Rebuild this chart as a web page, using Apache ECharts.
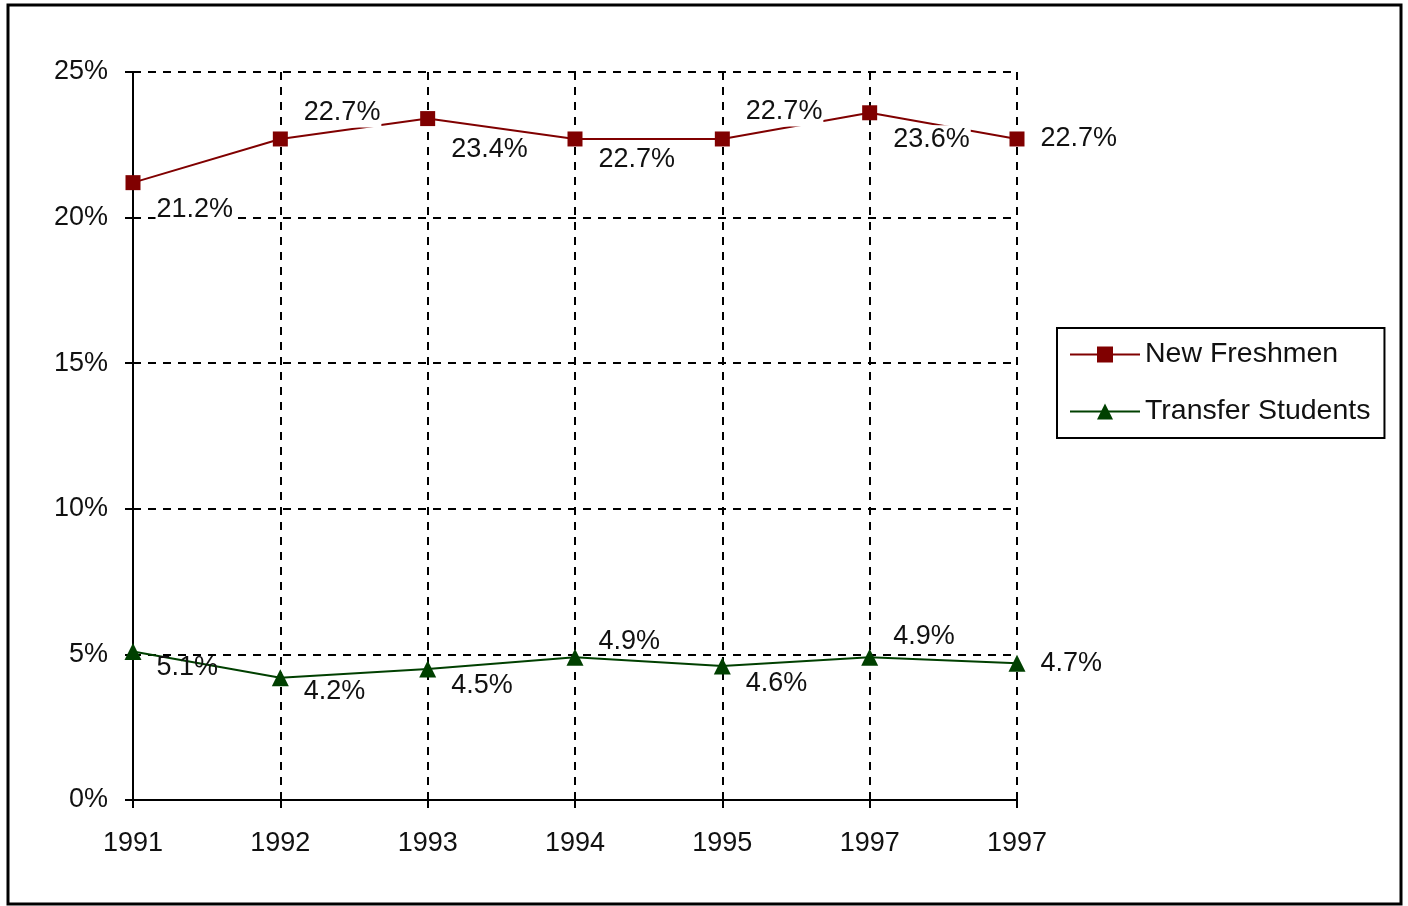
<!DOCTYPE html>
<html>
<head>
<meta charset="utf-8">
<style>
    html, body { margin: 0; padding: 0; background: #fff; }
    #chart { width: 1408px; height: 906px; }
</style>
<script src="https://cdn.jsdelivr.net/npm/echarts@6/dist/echarts.min.js"></script>
</head>
<body>
<div id="chart"></div>
<script>
// 数据
var years = ['1991', '1992', '1993', '1994', '1995', '1997', '1997'];
var freshmen = [21.2, 22.7, 23.4, 22.7, 22.7, 23.6, 22.7];
var transfer = [5.1, 4.2, 4.5, 4.9, 4.6, 4.9, 4.7];
var yTicks = [0, 5, 10, 15, 20, 25];

(function () {
    var myChart = echarts.init(document.getElementById('chart'));
    var font = 'Liberation Sans, Arial, sans-serif';

    // 标签上下偏移（像素）
    var redDy = [27, -26, 31, 21, -27, 27, 0];
    var greenDy = [16, 14, 17, -16, 17, -21, 0];

    function withLabels(values, dys, bg) {
        return values.map(function (v, i) {
            return {
                value: v,
                label: {
                    show: true,
                    position: 'right',
                    distance: 15,
                    offset: [0, dys[i]],
                    formatter: '{c}%',
                    color: '#111',
                    fontFamily: font,
                    fontSize: 27,
                    backgroundColor: bg,
                    padding: bg ? [1, 1] : 0
                }
            };
        });
    }

    var gridLine = {
        show: true,
        lineStyle: { color: '#000', width: 2, type: [8, 7] }
    };

    var option = {
        animation: false,
        backgroundColor: '#fff',
        graphic: [{
            type: 'rect',
            shape: { x: 8, y: 5, width: 1393, height: 899 },
            style: { fill: 'none', stroke: '#000', lineWidth: 3 },
            silent: true
        }],
        grid: {
            left: 133,
            right: 391,
            top: 72,
            bottom: 106
        },
        legend: {
            orient: 'vertical',
            left: 1057,
            top: 328,
            padding: [12, 14, 12, 12],
            itemGap: 28,
            itemWidth: 70,
            itemHeight: 20,
            borderColor: '#000',
            borderWidth: 2,
            textStyle: { fontFamily: font, fontSize: 28.5, color: '#111' },
            data: ['New Freshmen', 'Transfer Students']
        },
        xAxis: {
            type: 'category',
            boundaryGap: false,
            data: years,
            axisLine: { lineStyle: { color: '#000', width: 2 } },
            axisTick: { show: true, length: 8, alignWithLabel: true, lineStyle: { color: '#000', width: 2 } },
            axisLabel: { color: '#111', fontFamily: font, fontSize: 27, margin: 30 },
            splitLine: gridLine
        },
        yAxis: {
            type: 'value',
            min: yTicks[0],
            max: yTicks[yTicks.length - 1],
            interval: yTicks[1] - yTicks[0],
            axisLine: { show: true, lineStyle: { color: '#000', width: 2 } },
            axisTick: { show: true, length: 8, lineStyle: { color: '#000', width: 2 } },
            axisLabel: { color: '#111', fontFamily: font, fontSize: 27, margin: 25, formatter: '{value}%' },
            splitLine: gridLine
        },
        series: [
            {
                name: 'New Freshmen',
                type: 'line',
                symbol: 'rect',
                symbolSize: 15,
                color: '#800000',
                lineStyle: { color: '#800000', width: 2 },
                itemStyle: { color: '#800000' },
                data: withLabels(freshmen, redDy, '#fff')
            },
            {
                name: 'Transfer Students',
                type: 'line',
                symbol: 'triangle',
                symbolSize: 17,
                color: '#004000',
                lineStyle: { color: '#004000', width: 2 },
                itemStyle: { color: '#004000' },
                data: withLabels(transfer, greenDy, null)
            }
        ]
    };
    myChart.setOption(option);
    window.addEventListener('resize', function () {
        myChart.resize();
    });
})();
</script>
</body>
</html>
